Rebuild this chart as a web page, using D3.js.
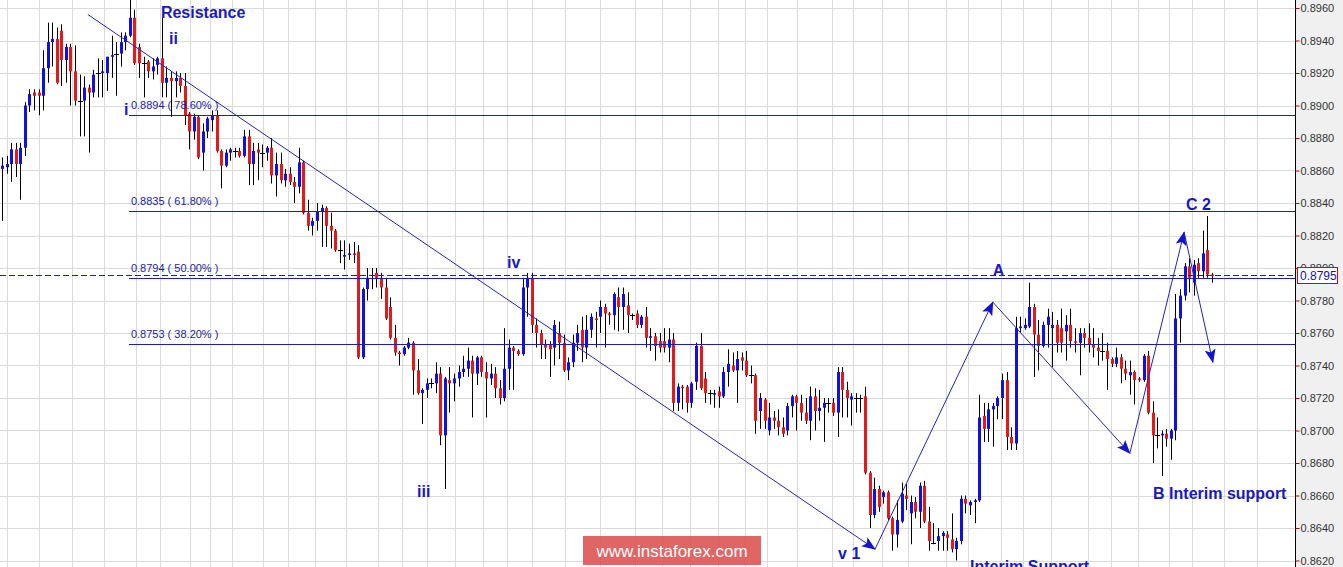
<!DOCTYPE html>
<html><head><meta charset="utf-8">
<script src="https://cdn.jsdelivr.net/npm/d3@7"></script>
<style>
html,body{margin:0;padding:0;background:#fff;overflow:hidden}
svg{display:block;font-family:Arial,"Liberation Sans",sans-serif}
</style></head><body>
<svg id="chart" width="1343" height="567"></svg>
<script>
// ---- data (one candle per bar) ----
const openP = [.8861,.8862,.8864,.8873,.8864,.8874,.8900,.8908,.8908,.8906,
.8923,.8939,.8941,.8946,.8928,.8936,.8921,.8903,.8903,.8911,
.8908,.8920,.8920,.8920,.8930,.8932,.8932,.8939,.8943,.8954,
.8936,.8926,.8927,.8921,.8925,.8929,.8914,.8917,.8915,.8917,
.8912,.8895,.8884,.8893,.8871,.8884,.8891,.8894,.8872,.8863,
.8871,.8872,.8872,.8869,.8881,.8864,.8873,.8871,.8871,.8874,
.8857,.8864,.8854,.8858,.8853,.8850,.8865,.8834,.8826,.8829,
.8835,.8837,.8826,.8823,.8811,.8807,.8808,.8809,.8810,.8745,
.8787,.8794,.8797,.8794,.8788,.8776,.8757,.8748,.8747,.8751,
.8754,.8737,.8723,.8725,.8729,.8729,.8735,.8697,.8731,.8729,
.8732,.8736,.8738,.8743,.8735,.8745,.8736,.8732,.8735,.8726,
.8720,.8738,.8751,.8749,.8747,.8788,.8794,.8765,.8760,.8753,
.8753,.8751,.8760,.8754,.8737,.8742,.8754,.8762,.8751,.8762,
.8769,.8770,.8776,.8772,.8771,.8782,.8776,.8777,.8771,.8772,
.8765,.8770,.8757,.8758,.8755,.8755,.8751,.8756,.8717,.8727,
.8727,.8717,.8730,.8752,.8732,.8723,.8722,.8724,.8721,.8736,
.8740,.8737,.8745,.8743,.8734,.8734,.8712,.8719,.8700,.8708,
.8706,.8702,.8700,.8715,.8721,.8717,.8711,.8706,.8721,.8712,
.8714,.8717,.8717,.8711,.8736,.8725,.8719,.8720,.8720,.8721,
.8674,.8648,.8664,.8659,.8662,.8646,.8636,.8644,.8660,.8649,
.8656,.8650,.8666,.8644,.8631,.8632,.8635,.8636,.8633,.8627,
.8632,.8658,.8654,.8656,.8657,.8709,.8701,.8713,.8715,.8720,
.8731,.8696,.8692,.8763,.8763,.8764,.8776,.8759,.8752,.8765,
.8763,.8765,.8763,.8761,.8765,.8755,.8754,.8760,.8757,.8753,
.8751,.8749,.8749,.8744,.8741,.8745,.8738,.8734,.8736,.8732,
.8731,.8746,.8711,.8697,.8697,.8698,.8695,.8700,.8769,.8783,
.8801,.8791,.8803,.8798,.8811,.8796];
const highP = [.8868,.8869,.8877,.8877,.8877,.8902,.8910,.8910,.8910,.8934,
.8951,.8951,.8948,.8950,.8938,.8938,.8937,.8919,.8918,.8913,
.8922,.8929,.8928,.8930,.8943,.8939,.8945,.8945,.8966,.8959,
.8938,.8930,.8928,.8929,.8930,.8954,.8924,.8921,.8921,.8920,
.8920,.8896,.8895,.8894,.8889,.8893,.8897,.8897,.8873,.8873,
.8874,.8874,.8874,.8885,.8885,.8877,.8877,.8876,.8875,.8880,
.8871,.8871,.8861,.8862,.8856,.8874,.8866,.8842,.8831,.8840,
.8839,.8838,.8834,.8824,.8817,.8817,.8815,.8816,.8814,.8788,
.8800,.8800,.8800,.8797,.8794,.8782,.8765,.8749,.8752,.8757,
.8755,.8744,.8726,.8732,.8732,.8742,.8739,.8733,.8739,.8735,
.8740,.8746,.8751,.8746,.8746,.8746,.8742,.8741,.8739,.8731,
.8763,.8756,.8752,.8750,.8794,.8797,.8797,.8769,.8762,.8756,
.8755,.8768,.8767,.8759,.8745,.8759,.8765,.8770,.8771,.8772,
.8773,.8780,.8778,.8773,.8785,.8788,.8788,.8785,.8772,.8774,
.8771,.8776,.8763,.8760,.8760,.8763,.8763,.8760,.8729,.8728,
.8728,.8730,.8754,.8760,.8736,.8725,.8725,.8727,.8739,.8750,
.8748,.8749,.8748,.8749,.8740,.8735,.8723,.8720,.8717,.8712,
.8713,.8708,.8717,.8722,.8722,.8722,.8720,.8727,.8726,.8725,
.8720,.8720,.8720,.8739,.8739,.8730,.8723,.8723,.8722,.8727,
.8675,.8671,.8666,.8663,.8663,.8647,.8657,.8668,.8667,.8660,
.8659,.8668,.8669,.8653,.8643,.8640,.8638,.8638,.8649,.8634,
.8660,.8660,.8657,.8658,.8722,.8717,.8717,.8717,.8721,.8735,
.8736,.8702,.8770,.8770,.8769,.8791,.8778,.8768,.8767,.8775,
.8773,.8768,.8775,.8771,.8775,.8763,.8763,.8763,.8766,.8763,
.8757,.8760,.8754,.8745,.8751,.8747,.8743,.8743,.8737,.8733,
.8747,.8749,.8718,.8708,.8700,.8701,.8701,.8784,.8787,.8803,
.8806,.8805,.8806,.8823,.8832,.8797];
const lowP = [.8829,.8858,.8853,.8856,.8842,.8869,.8896,.8897,.8894,.8897,
.8914,.8924,.8913,.8912,.8914,.8900,.8900,.8881,.8881,.8871,
.8905,.8905,.8905,.8909,.8917,.8906,.8924,.8934,.8942,.8925,
.8917,.8905,.8917,.8916,.8919,.8905,.8905,.8893,.8905,.8908,
.8888,.8873,.8879,.8867,.8860,.8880,.8884,.8871,.8849,.8862,
.8866,.8868,.8868,.8868,.8851,.8851,.8854,.8862,.8866,.8852,
.8844,.8852,.8850,.8851,.8840,.8846,.8833,.8823,.8820,.8823,
.8813,.8813,.8812,.8810,.8803,.8799,.8805,.8803,.8744,.8744,
.8780,.8787,.8788,.8781,.8768,.8756,.8746,.8740,.8746,.8750,
.8722,.8722,.8704,.8720,.8726,.8723,.8691,.8664,.8711,.8718,
.8727,.8733,.8733,.8708,.8728,.8733,.8708,.8728,.8720,.8716,
.8718,.8725,.8725,.8746,.8746,.8770,.8760,.8751,.8744,.8744,
.8733,.8740,.8744,.8736,.8731,.8739,.8749,.8742,.8744,.8757,
.8751,.8760,.8751,.8765,.8762,.8761,.8762,.8760,.8768,.8763,
.8763,.8751,.8749,.8743,.8748,.8748,.8742,.8712,.8712,.8713,
.8711,.8714,.8725,.8725,.8717,.8716,.8714,.8714,.8720,.8727,
.8736,.8717,.8737,.8733,.8729,.8698,.8701,.8701,.8697,.8701,
.8697,.8696,.8697,.8708,.8700,.8706,.8704,.8694,.8700,.8706,
.8693,.8711,.8709,.8696,.8708,.8708,.8703,.8711,.8711,.8673,
.8640,.8646,.8650,.8655,.8645,.8626,.8628,.8643,.8651,.8630,
.8646,.8640,.8643,.8626,.8630,.8626,.8626,.8626,.8625,.8620,
.8630,.8649,.8648,.8643,.8656,.8693,.8693,.8690,.8707,.8707,
.8688,.8688,.8688,.8760,.8762,.8763,.8733,.8737,.8751,.8751,
.8739,.8748,.8748,.8743,.8751,.8748,.8734,.8751,.8748,.8745,
.8740,.8743,.8725,.8739,.8739,.8729,.8731,.8722,.8716,.8730,
.8730,.8710,.8680,.8689,.8672,.8690,.8682,.8694,.8754,.8780,
.8785,.8783,.8794,.8794,.8794,.8791];
const closeP = [.8863,.8864,.8873,.8864,.8874,.8900,.8907,.8906,.8906,.8923,
.8939,.8941,.8914,.8928,.8936,.8921,.8903,.8903,.8911,.8908,
.8919,.8920,.8921,.8930,.8931,.8932,.8939,.8943,.8954,.8926,
.8926,.8926,.8921,.8924,.8929,.8914,.8917,.8915,.8917,.8912,
.8894,.8884,.8893,.8868,.8884,.8892,.8894,.8872,.8863,.8871,
.8873,.8872,.8869,.8881,.8864,.8872,.8871,.8871,.8874,.8857,
.8864,.8854,.8858,.8853,.8850,.8865,.8834,.8826,.8829,.8835,
.8837,.8826,.8823,.8811,.8811,.8808,.8809,.8808,.8745,.8787,
.8794,.8794,.8794,.8788,.8769,.8757,.8748,.8747,.8751,.8754,
.8737,.8723,.8725,.8729,.8729,.8735,.8697,.8732,.8729,.8732,
.8736,.8738,.8743,.8735,.8745,.8736,.8732,.8735,.8726,.8720,
.8738,.8751,.8749,.8747,.8788,.8794,.8765,.8760,.8753,.8751,
.8750,.8765,.8754,.8737,.8742,.8754,.8760,.8751,.8762,.8770,
.8768,.8776,.8772,.8771,.8784,.8776,.8784,.8771,.8771,.8765,
.8770,.8757,.8758,.8752,.8751,.8751,.8756,.8717,.8727,.8726,
.8717,.8729,.8752,.8726,.8723,.8723,.8723,.8721,.8736,.8741,
.8737,.8744,.8743,.8734,.8734,.8706,.8720,.8706,.8708,.8706,
.8702,.8698,.8715,.8721,.8717,.8711,.8706,.8721,.8712,.8714,
.8717,.8717,.8711,.8736,.8725,.8720,.8721,.8720,.8720,.8674,
.8648,.8664,.8653,.8662,.8646,.8636,.8645,.8661,.8658,.8656,
.8650,.8666,.8644,.8632,.8631,.8635,.8637,.8634,.8627,.8632,
.8658,.8655,.8656,.8657,.8708,.8701,.8713,.8715,.8720,.8731,
.8696,.8692,.8763,.8764,.8765,.8776,.8759,.8752,.8765,.8770,
.8765,.8754,.8754,.8765,.8755,.8754,.8760,.8757,.8753,.8751,
.8749,.8749,.8744,.8741,.8745,.8738,.8735,.8736,.8731,.8731,
.8746,.8711,.8697,.8697,.8698,.8695,.8700,.8769,.8783,.8801,
.8794,.8802,.8798,.8809,.8796,.8795];

const yTicks = [0.8620,0.8640,0.8660,0.8680,0.8700,0.8720,0.8740,0.8760,0.8780,
                0.8800,0.8820,0.8840,0.8860,0.8880,0.8900,0.8920,0.8940,0.8960];
const timeGrid = [1,8,15.3,22.3,29.3,34.6,41.2,45.6,50.4,57.2,62.6,68.6,75.3,82.3,87.6,
  93.1,99.2,105.3,110.6,116.1,123.3,131,138.6,144.5,150.7,156.8,162.7,167.5,174.1,181.8,
  186.4,192.7,198.4,206.7,211.6,218.7,223.6,229.7,237.8,242.8,248.7,255.6,260.6,267.6,274.8];
const fibLevels = [0.8894, 0.8835, 0.8794, 0.8753];
const fibNames  = ["0.8894 ( 78.60% )","0.8835 ( 61.80% )","0.8794 ( 50.00% )","0.8753 ( 38.20% )"];
const fibStart  = 27.8;               // bar index where the levels begin
const lastPrice = 0.8795;
const trendLine = [[18.8, 0.8956],[191.2, 0.8627]];
const wavePath  = [[191.2, 0.8627],[217.0, 0.8779],[247.0, 0.8686],[258.9, 0.8822],[265.2, 0.8742]];
const labelText = ["Resistance","ii","i","iv","iii","v 1","Interim Support","A","C 2","B Interim support"];
const labelAt   = [[34.8,0.8954],[36.6,0.8938],[26.7,0.8894],[110.6,0.8800],[90.9,0.8659],
                   [183.1,0.8621],[212.0,0.8613],[217.0,0.8795],[259.3,0.8836],[252.1,0.8658]];

// ---- layout ----
const W = 1343, H = 567, plotR = 1295;
const svg = d3.select("#chart");
const x = d3.scaleLinear().domain([0, openP.length - 1]).range([2, 1212]);
const y = d3.scaleLinear().domain([0.8620, 0.8960]).range([560.5, 8]);
const px = v => Math.round(v) + 0.5;

svg.append("rect").attr("width", W).attr("height", H).attr("fill", "#fff");
svg.append("defs").html(
  '<clipPath id="plot"><rect x="0" y="0" width="' + plotR + '" height="' + H + '"/></clipPath>' +
  '<marker id="ah" viewBox="0 0 14 11" refX="13" refY="5.5" markerWidth="14" markerHeight="11" markerUnits="userSpaceOnUse" orient="auto">' +
  '<path d="M0,0 L14,5.5 L0,11 L3,5.5 Z" fill="#1414d0"/></marker>');

const plot = svg.append("g").attr("clip-path", "url(#plot)");

// grid
plot.append("g").selectAll("line").data(yTicks).join("line")
  .attr("x1", 0).attr("x2", plotR).attr("y1", d => px(y(d))).attr("y2", d => px(y(d)))
  .attr("stroke", "#dadada").attr("stroke-width", 1);
plot.append("g").selectAll("line").data(timeGrid).join("line")
  .attr("x1", d => px(x(d))).attr("x2", d => px(x(d))).attr("y1", 0).attr("y2", H)
  .attr("stroke", "#dadada").attr("stroke-width", 1);

// candles
const bars = d3.range(openP.length);
const gC = plot.append("g");
gC.selectAll("line.w").data(bars).join("line").attr("class", "w")
  .attr("x1", i => px(x(i))).attr("x2", i => px(x(i)))
  .attr("y1", i => y(highP[i])).attr("y2", i => y(lowP[i]))
  .attr("stroke", "#000").attr("stroke-width", 1);
gC.selectAll("rect").data(bars.filter(i => Math.abs(openP[i] - closeP[i]) > 0.00005)).join("rect")
  .attr("x", i => Math.round(x(i)) - 1).attr("width", 3)
  .attr("y", i => y(Math.max(openP[i], closeP[i])))
  .attr("height", i => Math.max(1, Math.abs(y(openP[i]) - y(closeP[i]))))
  .attr("fill", i => closeP[i] > openP[i] ? "#1010e6" : "#e41a1a");
gC.selectAll("line.d").data(bars.filter(i => Math.abs(openP[i] - closeP[i]) <= 0.00005)).join("line").attr("class", "d")
  .attr("x1", i => Math.round(x(i)) - 2).attr("x2", i => Math.round(x(i)) + 3)
  .attr("y1", i => px(y(openP[i]))).attr("y2", i => px(y(openP[i])))
  .attr("stroke", "#000").attr("stroke-width", 1);

// fibonacci levels
const lineCol = "#1e1eb4";
plot.append("g").selectAll("line").data(fibLevels).join("line")
  .attr("x1", x(fibStart)).attr("x2", plotR)
  .attr("y1", d => px(y(d))).attr("y2", d => px(y(d)))
  .attr("stroke", lineCol).attr("stroke-width", 1);
plot.append("g").selectAll("text").data(fibLevels).join("text")
  .attr("x", x(fibStart) + 2).attr("y", d => y(d) - 6)
  .attr("font-size", 11).attr("fill", "#1c1ca8")
  .text((d, k) => fibNames[k]);

// current price dashed line
plot.append("line").attr("x1", 0).attr("x2", plotR)
  .attr("y1", px(y(lastPrice)) - 1).attr("y2", px(y(lastPrice)) - 1)
  .attr("stroke", lineCol).attr("stroke-dasharray", "6,3").attr("stroke-width", 1);

// trend line and wave arrows
plot.append("line")
  .attr("x1", x(trendLine[0][0])).attr("y1", y(trendLine[0][1]))
  .attr("x2", x(trendLine[1][0])).attr("y2", y(trendLine[1][1]))
  .attr("stroke", "#2424b8").attr("stroke-width", 1).attr("marker-end", "url(#ah)");
plot.append("g").selectAll("line").data(d3.pairs(wavePath)).join("line")
  .attr("x1", d => x(d[0][0])).attr("y1", d => y(d[0][1]))
  .attr("x2", d => x(d[1][0])).attr("y2", d => y(d[1][1]))
  .attr("stroke", "#2424b8").attr("stroke-width", 1).attr("marker-end", "url(#ah)");

// wave labels
svg.append("g").selectAll("text").data(labelText).join("text")
  .attr("x", (d, k) => x(labelAt[k][0])).attr("y", (d, k) => y(labelAt[k][1]))
  .attr("font-size", 16).attr("font-weight", "bold")
  .attr("fill", "#1818c8").text(d => d);

// right axis
svg.append("rect").attr("x", plotR + 1).attr("y", 0).attr("width", W - plotR - 1).attr("height", H).attr("fill", "#f0f0f0");
const ax = svg.append("g").attr("transform", "translate(" + (plotR + 0.5) + ",0)")
  .call(d3.axisRight(y).tickValues(yTicks).tickFormat(d3.format(".4f")).tickSize(4).tickPadding(1).tickSizeOuter(0));
ax.select(".domain").attr("stroke", "#000").attr("d", "M0,0V" + H);
ax.selectAll(".tick line").attr("stroke", "#c00000");
ax.selectAll(".tick text").attr("font-size", 11).attr("fill", "#333")
  .attr("font-family", "Arial, 'Liberation Sans', sans-serif");

// current price tag
const tagY = y(lastPrice);
svg.append("rect").attr("x", plotR + 2.5).attr("y", Math.round(tagY) - 8.5).attr("width", 40).attr("height", 16)
  .attr("fill", "#fff").attr("stroke", "#e00000").attr("stroke-width", 1);
svg.append("text").attr("x", plotR + 5).attr("y", Math.round(tagY) + 4)
  .attr("font-size", 12).attr("fill", "#1010c0").text(d3.format(".4f")(lastPrice));

// watermark
const wm = svg.append("g").attr("transform", "translate(672,551)");
wm.append("rect").attr("x", -89).attr("y", -15).attr("width", 178).attr("height", 29)
  .attr("fill", "#dc5050").attr("opacity", 0.88);
wm.append("text").attr("text-anchor", "middle").attr("y", 6).attr("font-size", 17)
  .attr("fill", "#fff").text("www.instaforex.com");
</script>
</body></html>
